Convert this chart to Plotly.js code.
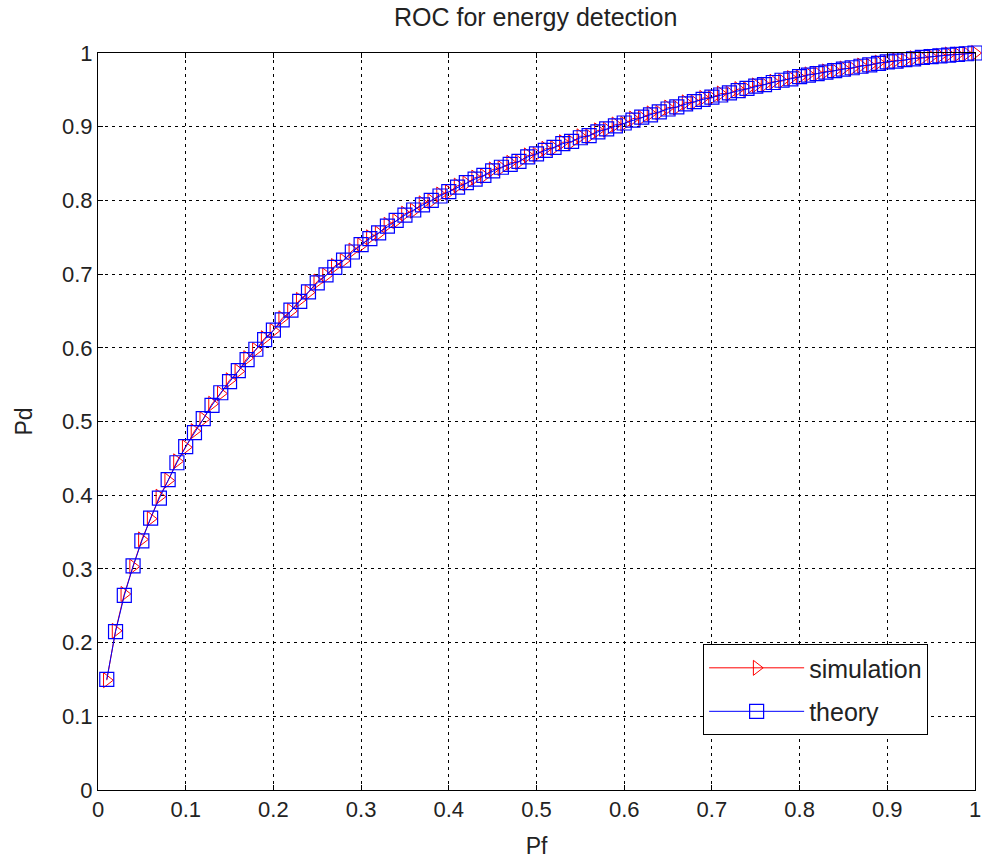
<!DOCTYPE html>
<html>
<head>
<meta charset="utf-8">
<script src="https://cdn.plot.ly/plotly-3.0.1.min.js"></script>
<style>html,body{margin:0;padding:0;background:#fff;}#chart{width:982px;height:863px;}</style>
</head>
<body>
<div id="chart"></div>
<script>
var pf = [0.01,0.02,0.03,0.04,0.05,0.06,0.07,0.08,0.09,0.10,
0.11,0.12,0.13,0.14,0.15,0.16,0.17,0.18,0.19,0.20,
0.21,0.22,0.23,0.24,0.25,0.26,0.27,0.28,0.29,0.30,
0.31,0.32,0.33,0.34,0.35,0.36,0.37,0.38,0.39,0.40,
0.41,0.42,0.43,0.44,0.45,0.46,0.47,0.48,0.49,0.50,
0.51,0.52,0.53,0.54,0.55,0.56,0.57,0.58,0.59,0.60,
0.61,0.62,0.63,0.64,0.65,0.66,0.67,0.68,0.69,0.70,
0.71,0.72,0.73,0.74,0.75,0.76,0.77,0.78,0.79,0.80,
0.81,0.82,0.83,0.84,0.85,0.86,0.87,0.88,0.89,0.90,
0.91,0.92,0.93,0.94,0.95,0.96,0.97,0.98,0.99,1.00];

var pdTheory = [0.150,0.215,0.264,0.304,0.338,0.369,0.396,0.421,0.444,0.466,
0.485,0.504,0.522,0.539,0.554,0.569,0.584,0.598,0.611,0.624,
0.638,0.651,0.663,0.676,0.688,0.699,0.709,0.719,0.730,0.740,
0.748,0.756,0.765,0.773,0.780,0.787,0.794,0.800,0.806,0.812,
0.818,0.824,0.829,0.834,0.840,0.845,0.849,0.853,0.859,0.863,
0.868,0.872,0.877,0.880,0.885,0.888,0.893,0.897,0.901,0.905,
0.909,0.913,0.916,0.920,0.924,0.927,0.931,0.934,0.937,0.940,
0.943,0.946,0.949,0.952,0.955,0.957,0.960,0.963,0.965,0.968,
0.970,0.972,0.974,0.976,0.978,0.980,0.982,0.984,0.986,0.988,
0.989,0.991,0.992,0.994,0.995,0.996,0.997,0.998,0.999,1.000];

var pdSim = [0.149,0.216,0.266,0.303,0.340,0.368,0.398,0.420,0.446,0.465,
0.487,0.503,0.524,0.538,0.556,0.568,0.586,0.597,0.613,0.623,
0.640,0.650,0.665,0.675,0.690,0.698,0.711,0.718,0.732,0.739,
0.750,0.755,0.767,0.772,0.782,0.786,0.796,0.799,0.808,0.811,
0.820,0.823,0.831,0.833,0.842,0.844,0.851,0.852,0.861,0.862,
0.870,0.871,0.879,0.879,0.887,0.887,0.895,0.896,0.903,0.904,
0.911,0.912,0.918,0.919,0.926,0.926,0.933,0.933,0.939,0.939,
0.945,0.945,0.951,0.951,0.956,0.957,0.961,0.962,0.966,0.967,
0.971,0.972,0.975,0.976,0.979,0.979,0.983,0.983,0.987,0.987,
0.990,0.990,0.993,0.993,0.995,0.996,0.998,0.998,0.999,1.000];

var seriesNames = ['simulation', 'theory'];
var titleText = 'ROC for energy detection';
var xLabel = 'Pf';
var yLabel = 'Pd';

var FONT = '"Liberation Sans", Arial, sans-serif';

var traces = [
  {
    x: pf, y: pdSim, name: seriesNames[0], type: 'scatter', mode: 'lines+markers',
    legendgroup: 'g1',
    line: {color: '#ff0000', width: 1},
    marker: {symbol: 'triangle-right-open', size: 13, color: '#ff0000', line: {width: 1, color: '#ff0000'}},
    cliponaxis: false
  },
  {
    x: pf, y: pdTheory, name: seriesNames[1], type: 'scatter', mode: 'lines+markers',
    legendgroup: 'g2',
    line: {color: '#0000ff', width: 1},
    marker: {symbol: 'square-open', size: 14, color: '#0000ff', line: {width: 1.2, color: '#0000ff'}},
    cliponaxis: false
  }
];

var axisCommon = {
  range: [0, 1], dtick: 0.1, tick0: 0,
  showgrid: true, gridcolor: '#000000', griddash: '3px,4px', gridwidth: 1,
  showline: true, linecolor: '#000000', linewidth: 1, mirror: 'allticks',
  ticks: 'inside', ticklen: 5, tickcolor: '#000000',
  zeroline: false,
  tickfont: {family: FONT, size: 22, color: '#222222'}
};

var layout = {
  width: 982, height: 863,
  paper_bgcolor: '#ffffff', plot_bgcolor: '#ffffff',
  margin: {l: 98, r: 7, t: 53, b: 73},
  font: {family: FONT, color: '#000000'},
  title: {text: titleText, font: {family: FONT, size: 25, color: '#222222'}, x: 0.5455, xanchor: 'center', y: 0.98, yanchor: 'middle'},
  xaxis: Object.assign({}, axisCommon, {title: {text: xLabel, font: {family: FONT, size: 23, color: '#222222'}, standoff: 16}}),
  yaxis: Object.assign({}, axisCommon, {title: {text: yLabel, font: {family: FONT, size: 23, color: '#222222'}, standoff: 22}}),
  showlegend: true,
  legend: {
    x: 0.69, y: 0.198, xanchor: 'left', yanchor: 'top',
    bgcolor: '#ffffff', bordercolor: '#000000', borderwidth: 1,
    font: {family: FONT, size: 25, color: '#222222'},
    traceorder: 'grouped', tracegroupgap: 8,
    itemwidth: 95
  }
};

Plotly.newPlot('chart', traces, layout, {displayModeBar: false, staticPlot: true});
</script>
</body>
</html>
